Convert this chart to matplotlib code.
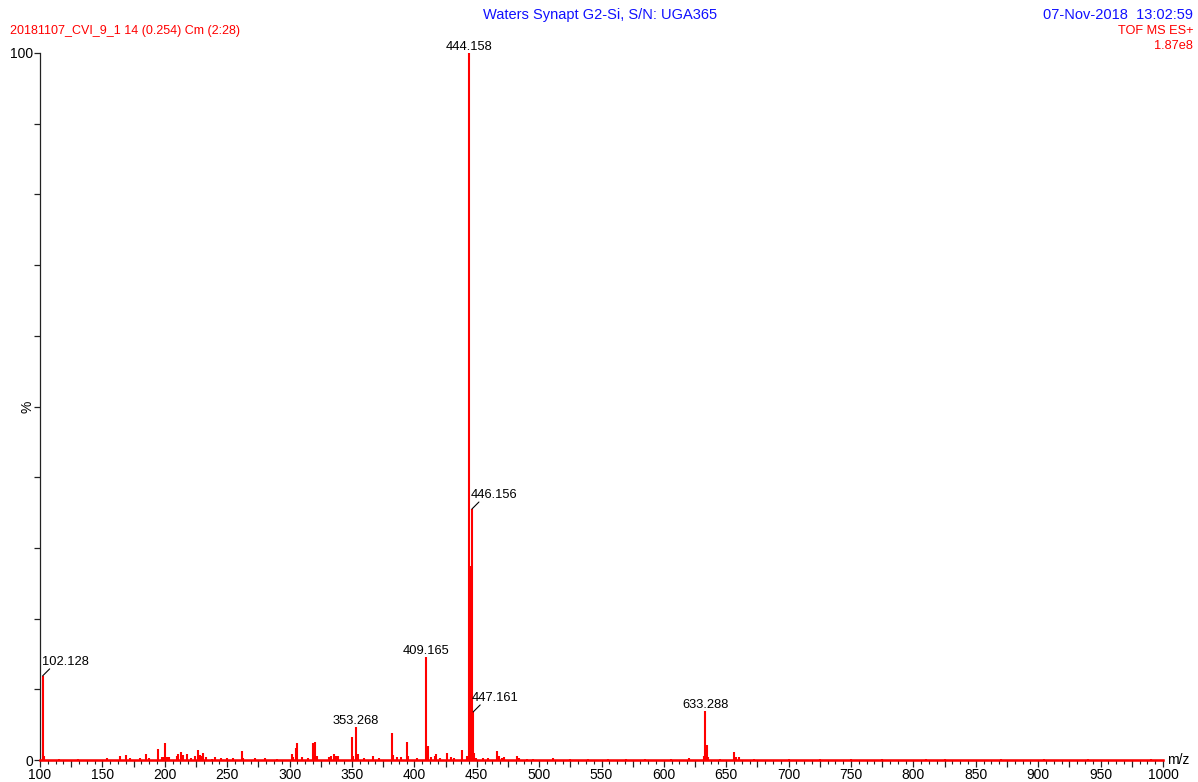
import matplotlib
matplotlib.use("Agg")
import matplotlib.pyplot as plt
import numpy as np

plt.rcParams["font.family"] = ["Liberation Sans", "DejaVu Sans"]

# centroided spectrum: m/z and relative intensity (%)
mz = [102.128, 103.13, 115.2, 130.7, 153.4, 164.1, 169.3, 172.0, 180.1, 185.3,
      187.0, 194.3, 198.0, 199.2, 200.5, 201.6, 203.0, 209.5, 210.6, 213.4,
      215.0, 217.5, 221.0, 224.0, 226.3, 228.2, 229.5, 230.8, 233.0, 238.0,
      240.5, 245.0, 250.0, 255.0, 261.5, 263.0, 272.3, 280.0, 290.0, 301.7,
      302.6, 304.9, 306.0, 309.8, 315.0, 318.5, 320.7, 321.9, 331.4, 333.5,
      335.7, 337.6, 339.0, 349.8, 351.0, 353.268, 354.5, 360.0, 366.5, 372.0,
      381.9, 383.2, 386.0, 389.0, 393.9, 395.0, 402.0, 409.165, 410.9, 413.0,
      416.5, 417.3, 420.5, 426.0, 429.0, 431.5, 438.0, 442.0, 444.158, 445.16,
      446.156, 447.161, 448.16, 449.5, 455.0, 459.0, 466.6, 468.0, 470.0, 472.0,
      482.0, 484.0, 490.0, 495.0, 511.0, 525.0, 539.0, 555.0, 570.0, 585.0,
      606.0, 620.0, 632.1, 633.288, 634.29, 635.3, 645.0, 656.4, 657.4, 660.4,
      672.0, 700.0, 725.0, 750.0, 775.0, 810.0, 825.0, 870.0, 905.0, 940.0,
      990.0]
intensity = [11.9, 0.6, 0.2, 0.2, 0.3, 0.5, 0.7, 0.3, 0.3, 0.9,
             0.3, 1.55, 0.4, 0.4, 2.4, 0.4, 0.4, 0.5, 0.8, 1.2,
             0.7, 0.8, 0.3, 0.6, 1.4, 0.7, 0.6, 1.0, 0.4, 0.2,
             0.4, 0.3, 0.3, 0.3, 1.3, 0.3, 0.3, 0.25, 0.2, 0.85,
             0.4, 1.75, 2.35, 0.4, 0.3, 2.35, 2.5, 0.5, 0.4, 0.6,
             0.8, 0.5, 0.5, 3.3, 0.6, 4.6, 0.8, 0.3, 0.5, 0.3,
             3.75, 0.7, 0.4, 0.4, 2.5, 0.5, 0.3, 14.6, 2.0, 0.4,
             0.5, 0.8, 0.3, 1.0, 0.4, 0.3, 1.4, 0.5, 100.0, 27.5,
             35.5, 6.8, 1.0, 0.3, 0.3, 0.3, 1.3, 0.5, 0.3, 0.4,
             0.6, 0.3, 0.2, 0.2, 0.3, 0.2, 0.2, 0.2, 0.2, 0.2,
             0.2, 0.3, 0.6, 7.0, 2.1, 0.4, 0.2, 1.2, 0.4, 0.4,
             0.2, 0.2, 0.15, 0.15, 0.2, 0.15, 0.2, 0.15, 0.2, 0.15,
             0.15]

# annotated peaks; leader=True puts the label to the right with a tick line
label_mz = [444.158, 409.165, 353.268, 633.288, 102.128, 446.156, 447.161]
label_leader = [False, False, False, False, True, True, True]

RED = "#ff0000"
BLUE = "#1010ff"

fig = plt.figure(figsize=(11.98, 7.82), dpi=100)
ax = fig.add_axes([40 / 1198, 1 - 760 / 782, 1123 / 1198, 707 / 782])

ax.vlines(mz, 0, intensity, color=RED, lw=1.5, zorder=3, clip_on=False)
ax.axhline(0, color=RED, lw=1.8, zorder=3, clip_on=False)

ax.set_xlim(100, 1000)
ax.set_ylim(0, 100)

for s in ["top", "right"]:
    ax.spines[s].set_visible(False)
for s in ["left", "bottom"]:
    ax.spines[s].set_color("#222222")
    ax.spines[s].set_linewidth(0.9)

ax.set_xticks(np.arange(100, 1001, 25))
ax.set_xticklabels([str(int(v)) if v % 50 == 0 else "" for v in np.arange(100, 1001, 25)])
ax.set_xticks(np.arange(100, 1001, 6.25), minor=True)
ax.set_yticks(np.arange(0, 101, 10))
ax.set_yticklabels(["0"] + [""] * 9 + ["100"])
ax.tick_params(axis="x", which="major", direction="out", length=5, width=0.9,
               pad=1, labelsize=10, color="#222222")
ax.tick_params(axis="x", which="minor", direction="out", length=3, width=0.8,
               color="#222222")
ax.tick_params(axis="y", which="major", direction="out", length=4, width=0.9,
               pad=1, labelsize=10, color="#222222")

ax.text(-12 / 1123, 0.5, "%", transform=ax.transAxes, rotation=90,
        ha="center", va="center", fontsize=10)
ax.text(1.004, 0.0, "m/z", transform=ax.transAxes, ha="left", va="center",
        fontsize=10)

# peak labels
peak_height = dict(zip(mz, intensity))
for m, lead in zip(label_mz, label_leader):
    h = peak_height[m]
    txt = f"{m:.3f}"
    if lead:
        ax.annotate("", xy=(m, h), xytext=(7, 7), textcoords="offset pixels",
                    arrowprops=dict(arrowstyle="-", lw=0.8, color="black",
                                    shrinkA=0, shrinkB=0))
        ax.annotate(txt, xy=(m, h), xytext=(-1, 11), textcoords="offset pixels",
                    ha="left", va="baseline", fontsize=9.3)
    else:
        ax.annotate(txt, xy=(m, h), xytext=(0, 3), textcoords="offset pixels",
                    ha="center", va="baseline", fontsize=9.3)

# header
fig.text(600 / 1198, 1 - 15 / 782, "Waters Synapt G2-Si, S/N: UGA365",
         color=BLUE, ha="center", va="center", fontsize=10.5)
fig.text(1193 / 1198, 1 - 15 / 782, "07-Nov-2018  13:02:59",
         color=BLUE, ha="right", va="center", fontsize=10.5)
fig.text(10 / 1198, 1 - 31 / 782, "20181107_CVI_9_1 14 (0.254) Cm (2:28)",
         color=RED, ha="left", va="center", fontsize=9)
fig.text(1193 / 1198, 1 - 31 / 782, "TOF MS ES+",
         color=RED, ha="right", va="center", fontsize=9.2)
fig.text(1193 / 1198, 1 - 46 / 782, "1.87e8",
         color=RED, ha="right", va="center", fontsize=9.2)

fig.savefig("out.png", dpi=100)
